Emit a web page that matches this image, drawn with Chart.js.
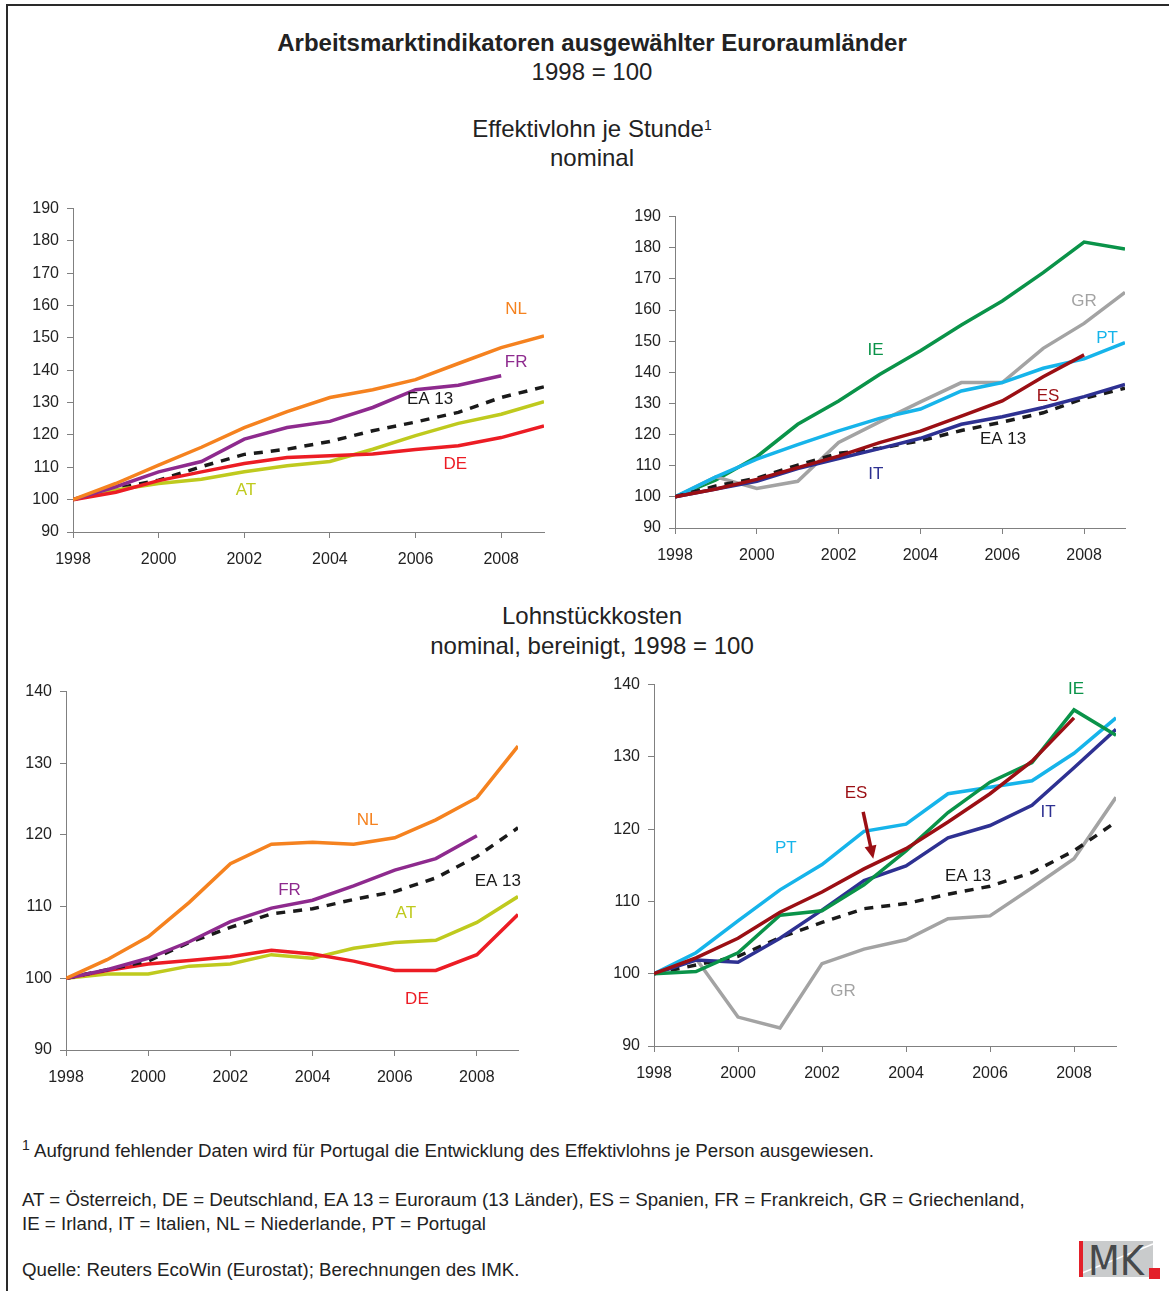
<!DOCTYPE html>
<html>
<head>
<meta charset="utf-8">
<script src="https://cdn.jsdelivr.net/npm/chart.js@4.4.1/dist/chart.umd.min.js"></script>
<style>
  body { margin: 0; background: #fff; font-family: "Liberation Sans", Arial, sans-serif; color: #222; }
  #page { position: relative; width: 1169px; height: 1291px; overflow: hidden; }
  .frame-top { position: absolute; left: 6px; top: 4px; width: 1163px; height: 2px; background: #2a2a2a; }
  .frame-left { position: absolute; left: 6px; top: 4px; width: 2px; height: 1287px; background: #2a2a2a; }
  .t { position: absolute; left: 0; width: 1184px; text-align: center; font-size: 24px; line-height: 28px; }
  .note { position: absolute; left: 22px; font-size: 18.7px; line-height: 22px; white-space: nowrap; }
  sup { font-size: 14px; vertical-align: 0; position: relative; top: -7px; }
  canvas { position: absolute; }
</style>
</head>
<body>
<div id="page">
  <div class="frame-top"></div>
  <div class="frame-left"></div>

  <div class="t" style="top:29px; font-weight:bold;">Arbeitsmarktindikatoren ausgewählter Euroraumländer</div>
  <div class="t" style="top:58px;">1998 = 100</div>
  <div class="t" style="top:115px;">Effektivlohn je Stunde<sup>1</sup></div>
  <div class="t" style="top:144px;">nominal</div>
  <div class="t" style="top:602px;">Lohnstückkosten</div>
  <div class="t" style="top:632px;">nominal, bereinigt, 1998 = 100</div>

  <canvas id="c1" width="536" height="386" style="left:20px; top:191px;"></canvas>
  <canvas id="c2" width="515" height="374" style="left:622px; top:199px;"></canvas>
  <canvas id="c3" width="517" height="421" style="left:13px; top:674px;"></canvas>
  <canvas id="c4" width="527" height="424" style="left:601px; top:667px;"></canvas>

  <div class="note" style="top:1140px;"><sup>1</sup> Aufgrund fehlender Daten wird für Portugal die Entwicklung des Effektivlohns je Person ausgewiesen.</div>
  <div class="note" style="top:1189px;">AT = Österreich, DE = Deutschland, EA 13 = Euroraum (13 Länder), ES = Spanien, FR = Frankreich, GR = Griechenland,</div>
  <div class="note" style="top:1213px;">IE = Irland, IT = Italien, NL = Niederlande, PT = Portugal</div>
  <div class="note" style="top:1259px;">Quelle: Reuters EcoWin (Eurostat); Berechnungen des IMK.</div>

  <svg style="position:absolute; left:1076px; top:1238px;" width="90" height="45">
    <rect x="3" y="3" width="74" height="36" fill="#c9cbcc"/>
    <line x1="6" y1="35" x2="77" y2="6" stroke="#fff" stroke-width="1.5"/>
    <rect x="3" y="3" width="4" height="36" fill="#e3202a"/>
    <text x="12" y="37" font-family="Liberation Sans Narrow, DejaVu Sans Condensed, sans-serif" font-size="41" fill="#46494b">MK</text>
    <rect x="73" y="30" width="11" height="11" fill="#e3202a"/>
  </svg>
</div>

<script>
// years on the x axis
let years = [1998, 1999, 2000, 2001, 2002, 2003, 2004, 2005, 2006, 2007, 2008, 2009];

// Effektivlohn je Stunde, nominal
let wageNL = [100, 105.0, 110.7, 116.2, 122.3, 127.2, 131.6, 134.0, 137.1, 142.1, 147.0, 150.6];
let wageFR = [100, 104.0, 108.6, 111.8, 118.7, 122.3, 124.2, 128.5, 134.0, 135.4, 138.3];
let wageEA = [100, 103.5, 106.0, 110.2, 114.0, 115.6, 118.0, 121.3, 124.0, 127.0, 131.6, 134.9];
let wageAT = [100, 103.0, 105.0, 106.3, 108.6, 110.5, 111.8, 115.6, 119.8, 123.6, 126.4, 130.3];
let wageDE = [100, 102.3, 105.9, 108.6, 111.2, 113.0, 113.6, 114.1, 115.5, 116.7, 119.2, 122.8];
let wageIE = [100, 105.4, 112.9, 123.3, 130.8, 139.3, 146.9, 155.2, 162.9, 172.0, 181.8, 179.6];
let wageGR = [100, 106.4, 102.7, 105.0, 117.5, 124.1, 130.5, 136.7, 136.7, 147.7, 155.7, 165.7];
let wagePT = [100, 106.4, 112.1, 116.8, 121.2, 125.2, 128.2, 134.0, 136.7, 141.3, 144.3, 149.5];
let wageES = [100, 102.5, 105.6, 109.4, 113.1, 117.4, 121.1, 125.9, 130.8, 138.6, 145.6];
let wageIT = [100, 102.5, 105.0, 109.1, 112.3, 115.5, 118.8, 123.3, 125.7, 128.7, 132.2, 136.1];

// Lohnstückkosten, nominal, bereinigt
let ulcNL = [100, 102.6, 105.8, 110.6, 116.0, 118.7, 119.0, 118.7, 119.6, 122.1, 125.2, 132.4];
let ulcFR = [100, 101.2, 102.8, 105.1, 107.9, 109.8, 110.9, 112.9, 115.1, 116.7, 119.9];
let ulcEA = [100, 101.2, 102.4, 105.0, 107.1, 109.0, 109.7, 111.0, 112.1, 114.0, 117.0, 121.0];
let ulcAT = [100, 100.6, 100.6, 101.7, 102.0, 103.3, 102.8, 104.2, 105.0, 105.3, 107.8, 111.4];
let ulcDE = [100, 101.1, 102.0, 102.5, 103.0, 103.9, 103.4, 102.4, 101.1, 101.1, 103.3, 108.9];
let ulcPT = [100, 102.9, 107.3, 111.6, 115.1, 119.7, 120.7, 124.9, 125.8, 126.7, 130.5, 135.4];
let ulcES = [100, 102.2, 104.9, 108.5, 111.3, 114.5, 117.3, 121.0, 124.9, 129.4, 135.4];
let ulcIE = [100, 100.3, 102.9, 108.1, 108.7, 112.3, 117.0, 122.3, 126.5, 129.2, 136.5, 133.0];
let ulcIT = [100, 101.9, 101.6, 104.9, 108.8, 112.9, 114.9, 118.8, 120.5, 123.3, 128.5, 133.8];
let ulcGR = [100, 102.1, 94.0, 92.5, 101.4, 103.4, 104.7, 107.6, 108.0, 111.9, 115.9, 124.4];

// Colors of the countries
let colors = {
    NL: "#f5821f", FR: "#8e2a8e", EA: "#1a1a1a", AT: "#bfca1e", DE: "#ec1c24",
    IE: "#0a9349", GR: "#a3a3a3", PT: "#16b4ea", ES: "#9b0f14", IT: "#2e3192"
};

const FONT = "Liberation Sans, Arial, sans-serif";

function series(code, values) {
    return {
        label: code,
        data: values.map((v, i) => ({ x: years[i], y: v })),
        borderColor: colors[code],
        backgroundColor: colors[code],
        borderWidth: 3.5,
        borderDash: code === "EA" ? [9, 8] : [],
        borderCapStyle: "butt",
        pointRadius: 0,
        tension: 0,
        fill: false
    };
}

// Draws the country names (and the arrow) at data positions
const labelPlugin = {
    id: "countryLabels",
    afterDatasetsDraw(chart, args, opts) {
        const ctx = chart.ctx, xs = chart.scales.x, ys = chart.scales.y;
        ctx.save();
        ctx.font = "17px " + FONT;
        ctx.textAlign = "center";
        ctx.textBaseline = "middle";
        for (let l of opts.items || []) {
            ctx.fillStyle = colors[l.c];
            ctx.fillText(l.t, xs.getPixelForValue(l.x), ys.getPixelForValue(l.y));
        }
        if (opts.arrow) {
            const a = opts.arrow;
            const x1 = xs.getPixelForValue(a.from[0]), y1 = ys.getPixelForValue(a.from[1]);
            const x2 = xs.getPixelForValue(a.to[0]), y2 = ys.getPixelForValue(a.to[1]);
            const ang = Math.atan2(y2 - y1, x2 - x1);
            ctx.strokeStyle = colors[a.c];
            ctx.fillStyle = colors[a.c];
            ctx.lineWidth = 3.5;
            ctx.beginPath();
            ctx.moveTo(x1, y1);
            ctx.lineTo(x2 - 9 * Math.cos(ang), y2 - 9 * Math.sin(ang));
            ctx.stroke();
            ctx.beginPath();
            ctx.moveTo(x2, y2);
            ctx.lineTo(x2 - 13 * Math.cos(ang) + 6 * Math.sin(ang), y2 - 13 * Math.sin(ang) - 6 * Math.cos(ang));
            ctx.lineTo(x2 - 13 * Math.cos(ang) - 6 * Math.sin(ang), y2 - 13 * Math.sin(ang) + 6 * Math.cos(ang));
            ctx.closePath();
            ctx.fill();
        }
        ctx.restore();
    }
};

function makeChart(id, datasets, yMin, yMax, yAxisWidth, labels, arrow) {
    return new Chart(id, {
        type: "line",
        data: { datasets: datasets },
        options: {
            responsive: false,
            animation: false,
            layout: { padding: { top: 10, right: 12, left: 0, bottom: 0 } },
            plugins: {
                legend: { display: false },
                tooltip: { enabled: false },
                countryLabels: { items: labels, arrow: arrow }
            },
            scales: {
                x: {
                    type: "linear",
                    min: 1998,
                    max: 2009,
                    grid: { drawOnChartArea: false, tickLength: 6, color: "#808080" },
                    border: { color: "#808080", width: 1 },
                    ticks: {
                        stepSize: 2,
                        includeBounds: false,
                        maxRotation: 0,
                        padding: 12,
                        color: "#222",
                        font: { family: FONT, size: 16 },
                        callback: v => String(v)
                    },
                    afterFit: s => { s.height = 45; }
                },
                y: {
                    min: yMin,
                    max: yMax,
                    grid: { drawOnChartArea: false, tickLength: 6, color: "#808080" },
                    border: { color: "#808080", width: 1 },
                    ticks: {
                        stepSize: 10,
                        padding: 8,
                        color: "#222",
                        font: { family: FONT, size: 16 },
                        callback: v => String(v)
                    },
                    afterFit: s => { s.width = yAxisWidth; }
                }
            }
        },
        plugins: [labelPlugin]
    });
}

// Effektivlohn, left
makeChart("c1",
    [series("NL", wageNL), series("FR", wageFR), series("DE", wageDE), series("AT", wageAT), series("EA", wageEA)],
    90, 190, 53,
    [
        { t: "NL", c: "NL", x: 2008.35, y: 159 },
        { t: "FR", c: "FR", x: 2008.35, y: 142.6 },
        { t: "EA 13", c: "EA", x: 2006.34, y: 130.9 },
        { t: "DE", c: "DE", x: 2006.93, y: 111 },
        { t: "AT", c: "AT", x: 2002.04, y: 103 }
    ]);

// Effektivlohn, right
makeChart("c2",
    [series("ES", wageES), series("IT", wageIT), series("EA", wageEA), series("PT", wagePT), series("GR", wageGR), series("IE", wageIE)],
    90, 190, 53,
    [
        { t: "IE", c: "IE", x: 2002.9, y: 147.2 },
        { t: "GR", c: "GR", x: 2008.0, y: 162.7 },
        { t: "PT", c: "PT", x: 2008.56, y: 150.8 },
        { t: "ES", c: "ES", x: 2007.12, y: 132.4 },
        { t: "EA 13", c: "EA", x: 2006.02, y: 118.6 },
        { t: "IT", c: "IT", x: 2002.91, y: 107.4 }
    ]);

// Lohnstückkosten, left
makeChart("c3",
    [series("NL", ulcNL), series("FR", ulcFR), series("EA", ulcEA), series("DE", ulcDE), series("AT", ulcAT)],
    90, 140, 53,
    [
        { t: "NL", c: "NL", x: 2005.34, y: 122 },
        { t: "FR", c: "FR", x: 2003.44, y: 112.3 },
        { t: "EA 13", c: "EA", x: 2008.51, y: 113.6 },
        { t: "AT", c: "AT", x: 2006.27, y: 109 },
        { t: "DE", c: "DE", x: 2006.54, y: 97.1 }
    ]);

// Lohnstückkosten, right
makeChart("c4",
    [series("ES", ulcES), series("IE", ulcIE), series("IT", ulcIT), series("PT", ulcPT), series("EA", ulcEA), series("GR", ulcGR)],
    90, 140, 53,
    [
        { t: "IE", c: "IE", x: 2008.05, y: 139.3 },
        { t: "ES", c: "ES", x: 2002.81, y: 124.9 },
        { t: "PT", c: "PT", x: 2001.14, y: 117.3 },
        { t: "IT", c: "IT", x: 2007.38, y: 122.3 },
        { t: "EA 13", c: "EA", x: 2005.48, y: 113.5 },
        { t: "GR", c: "GR", x: 2002.5, y: 97.5 }
    ],
    { c: "ES", from: [2002.98, 122.4], to: [2003.22, 115.9] });
</script>
</body>
</html>
